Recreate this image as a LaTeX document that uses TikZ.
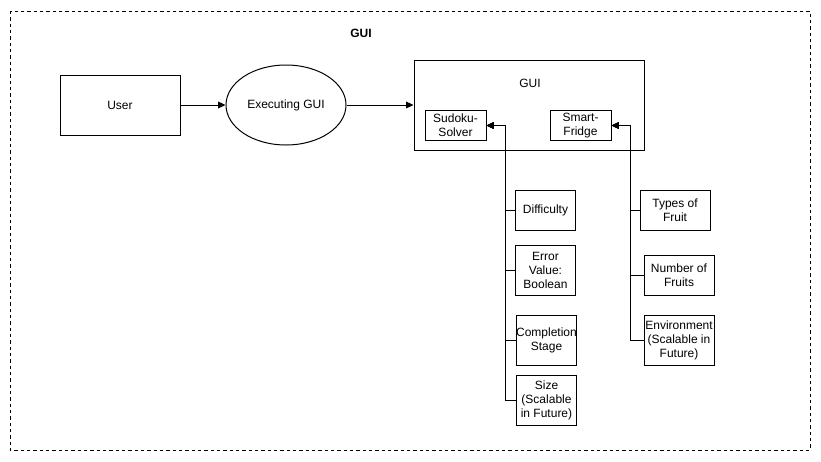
\documentclass[tikz,border=0pt]{standalone}
\usepackage{fontspec}
\setmainfont{Liberation Sans}
\usetikzlibrary{arrows.meta,shapes.geometric}
\begin{document}
\begin{tikzpicture}[x=0.75pt,y=-0.75pt,
  every node/.style={font=\fontsize{9}{10.5}\selectfont, align=center, inner sep=0pt},
  box/.style={draw, line width=0.75pt, rectangle},
  link/.style={line width=0.75pt, -{Triangle[length=5.5pt,width=5pt]}},
  branch/.style={line width=0.75pt, -{Triangle[length=5.5pt,width=5pt]}}
]
\useasboundingbox (0,0) rectangle (821,461);
% dashed frame of the whole system
\draw[line width=0.75pt, dash pattern=on 2.5pt off 2.25pt] (10,11) rectangle (810,450);
\node[font=\fontsize{9}{10.5}\selectfont\bfseries] (title) at (361,33) {GUI};

% main flow
\node[box, minimum width=90pt, minimum height=45pt] (user) at (120,105) {User};
\node[draw, line width=0.75pt, ellipse, minimum width=90pt, minimum height=60pt] (exec) at (286,105) {Executing GUI};
\node[box, minimum width=172.5pt, minimum height=67.5pt] (gui) at (529,105) {};
\node (guititle) at (530,83) {GUI};
\node[box, minimum width=45.75pt, minimum height=22pt] (sudoku) at (455.5,125.5) {Sudoku-\\Solver};
\node[box, minimum width=45.75pt, minimum height=22pt] (fridge) at (580.5,125.5) {Smart-\\Fridge};

\draw[link] (user.east) -- (exec.west);
\draw[link] (exec.east) -- (gui.west);

% Sudoku-Solver attributes
\coordinate (sbus) at (505.5,125.5);
\node[box, minimum width=45pt, minimum height=30pt] (diff) at (545.5,210) {Difficulty};
\node[box, minimum width=45pt, minimum height=37.5pt] (err) at (545.5,270) {Error\\Value:\\Boolean};
\node[box, minimum width=45pt, minimum height=37.5pt] (comp) at (546.5,340) {Completion\\Stage};
\node[box, minimum width=45pt, minimum height=37.5pt] (size) at (546.5,400) {Size\\(Scalable\\in Future)};

\foreach \n in {diff,err,comp,size}
  \draw[branch] (\n.west) -| (sbus) -- (sudoku.east);

% Smart-Fridge attributes
\coordinate (fbus) at (630.5,125.5);
\node[box, minimum width=52.5pt, minimum height=30pt] (types) at (675,210) {Types of\\Fruit};
\node[box, minimum width=52.5pt, minimum height=30pt] (num) at (679,275) {Number of\\Fruits};
\node[box, minimum width=52.5pt, minimum height=37.5pt] (env) at (679,340) {Environment\\(Scalable in\\Future)};

\foreach \n in {types,num,env}
  \draw[branch] (\n.west) -| (fbus) -- (fridge.east);
\end{tikzpicture}
\end{document}
